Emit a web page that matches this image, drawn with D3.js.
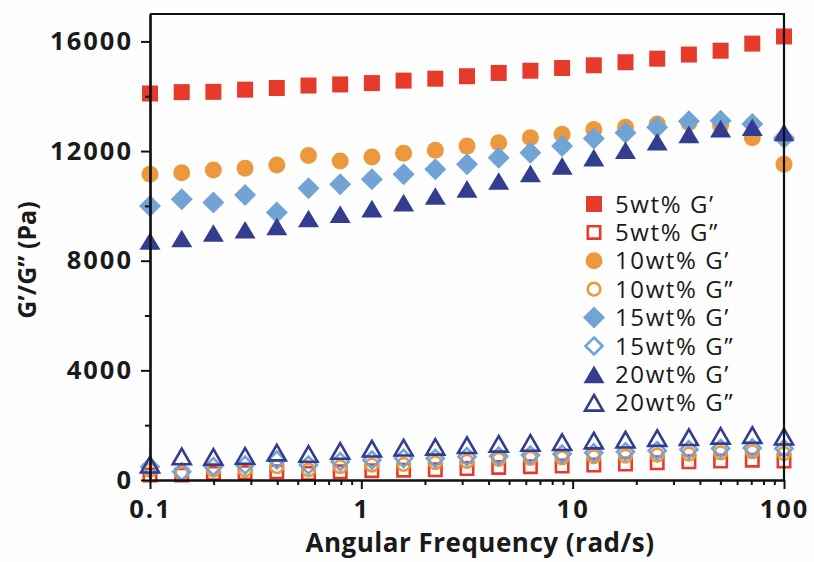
<!DOCTYPE html>
<html>
<head>
<meta charset="utf-8">
<script src="https://cdn.jsdelivr.net/npm/d3@7"></script>
<style>
  html, body { margin: 0; padding: 0; background: #fefefe; }
  svg { display: block; }
  text { font-family: "Open Sans", "DejaVu Sans", sans-serif; fill: #1a1a1a; }
</style>
</head>
<body>
<svg id="chart" width="814" height="562"></svg>
<script>
// ---------- data ----------
const frequency = [0.1, 0.1413, 0.1995, 0.2818, 0.3981, 0.5623, 0.7943, 1.122, 1.585, 2.239, 3.162,
                   4.467, 6.310, 8.913, 12.59, 17.78, 25.12, 35.48, 50.12, 70.79, 100];

const g5Storage  = [14100, 14150, 14160, 14240, 14300, 14390, 14430, 14480, 14570, 14640, 14730,
                    14850, 14930, 15030, 15130, 15240, 15370, 15520, 15660, 15920, 16180];
const g5Loss     = [180, 180, 240, 270, 300, 240, 300, 340, 360, 370, 420,
                    460, 485, 510, 545, 580, 630, 665, 690, 725, 690];
const g10Storage = [11150, 11210, 11310, 11370, 11490, 11840, 11640, 11780, 11920, 12030, 12180,
                    12300, 12490, 12610, 12790, 12870, 12990, 13030, 12930, 12490, 11520];
const g10Loss    = [360, 240, 360, 365, 485, 365, 485, 545, 570, 630, 680,
                    750, 790, 810, 850, 870, 910, 945, 990, 1030, 970];
const g15Storage = [10000, 10240, 10120, 10400, 9760, 10640, 10790, 10970, 11150, 11340, 11520,
                    11760, 11940, 12180, 12460, 12670, 12870, 13090, 13110, 12990, 12480];
const g15Loss    = [485, 300, 485, 545, 730, 545, 670, 730, 790, 790, 850,
                    870, 910, 945, 990, 1030, 1070, 1110, 1150, 1170, 1150];
const g20Storage = [8720, 8810, 9010, 9130, 9250, 9540, 9700, 9900, 10120, 10360, 10620,
                    10910, 11180, 11460, 11760, 12030, 12340, 12610, 12820, 12870, 12680];
const g20Loss    = [560, 860, 840, 880, 1000, 950, 1060, 1140, 1180, 1210, 1270,
                    1320, 1350, 1380, 1440, 1470, 1530, 1560, 1610, 1640, 1580];

const seriesNames = ["5wt% G’", "5wt% G”", "10wt% G’", "10wt% G”", "15wt% G’", "15wt% G”", "20wt% G’", "20wt% G”"];
const yMajorTicks = [0, 4000, 8000, 12000, 16000];
const yMinorTicks = [2000, 6000, 10000, 14000];
const xMajorTicks = [0.1, 1, 10, 100];
const xMinorTicks = [0.2, 0.3, 0.4, 0.5, 0.6, 0.7, 0.8, 0.9, 2, 3, 4, 5, 6, 7, 8, 9, 20, 30, 40, 50, 60, 70, 80, 90];
const xTitle = "Angular Frequency (rad/s)";
const yTitle = "G’/G” (Pa)";

// ---------- styles ----------
const RED = "#e63a2b", ORANGE = "#ec983d", LBLUE = "#72a3d5", NAVY = "#333d90";
const series = [
  { name: seriesNames[0], values: g5Storage,  shape: "square",   color: RED,    filled: true },
  { name: seriesNames[1], values: g5Loss,     shape: "square",   color: RED,    filled: false },
  { name: seriesNames[2], values: g10Storage, shape: "circle",   color: ORANGE, filled: true },
  { name: seriesNames[3], values: g10Loss,    shape: "circle",   color: ORANGE, filled: false },
  { name: seriesNames[4], values: g15Storage, shape: "diamond",  color: LBLUE,  filled: true },
  { name: seriesNames[5], values: g15Loss,    shape: "diamond",  color: LBLUE,  filled: false },
  { name: seriesNames[6], values: g20Storage, shape: "triangle", color: NAVY,   filled: true },
  { name: seriesNames[7], values: g20Loss,    shape: "triangle", color: NAVY,   filled: false }
];

// ---------- layout ----------
const svg = d3.select("#chart");
const mLeft = 150, mRight = 784, mTop = 14, mBottom = 480;

const x = d3.scaleLog().domain([0.1, 100]).range([mLeft, mRight]);
const y = d3.scaleLinear().domain([0, 17000]).range([mBottom, mTop]);

function markerPath(shape, filled) {
  if (shape === "square") {
    const s = filled ? 8 : 6.2;
    return `M${-s},${-s}H${s}V${s}H${-s}Z`;
  }
  if (shape === "circle") {
    const r = filled ? 8.5 : 6.3;
    return `M${r},0A${r},${r} 0 1,1 ${-r},0A${r},${r} 0 1,1 ${r},0Z`;
  }
  if (shape === "diamond") {
    const w = filled ? 11 : 8.5, h = filled ? 11 : 8.5;
    return `M0,${-h}L${w},0L0,${h}L${-w},0Z`;
  }
  const w = filled ? 10.5 : 9, h = filled ? 8.8 : 7.8;
  return `M0,${-h}L${w},${h}L${-w},${h}Z`;
}

// ---------- data marks ----------
const plot = svg.append("g");
series.forEach(s => {
  plot.append("g").selectAll("path")
    .data(s.values)
    .join("path")
    .attr("transform", (d, i) => `translate(${x(frequency[i])},${y(d)})`)
    .attr("d", markerPath(s.shape, s.filled))
    .attr("fill", s.filled ? s.color : "none")
    .attr("stroke", s.filled ? "none" : s.color)
    .attr("stroke-width", s.filled ? 0 : 2.6)
    .attr("stroke-linejoin", "miter");
});

// ---------- frame ----------
svg.append("path")
  .attr("d", `M${mLeft},${mTop}H${mRight}V${mBottom}`)
  .attr("fill", "none").attr("stroke", "#111").attr("stroke-width", 2.2);

// ---------- axes ----------
const yAxis = svg.append("g").attr("transform", `translate(${mLeft},0)`)
  .call(d3.axisLeft(y).tickValues(yMajorTicks).tickSize(9).tickSizeOuter(0).tickPadding(8).tickFormat(d3.format("d")));
const yMinor = svg.append("g").attr("transform", `translate(${mLeft},0)`)
  .call(d3.axisLeft(y).tickValues(yMinorTicks).tickSize(5).tickSizeOuter(0).tickFormat(""));
const xAxis = svg.append("g").attr("transform", `translate(0,${mBottom})`)
  .call(d3.axisBottom(x).tickValues(xMajorTicks).tickSize(9).tickSizeOuter(0).tickPadding(3).tickFormat(d => d3.format("~g")(d)));
const xMinor = svg.append("g").attr("transform", `translate(0,${mBottom})`)
  .call(d3.axisBottom(x).tickValues(xMinorTicks).tickSize(5).tickSizeOuter(0).tickFormat(""));

[yAxis, yMinor, xAxis, xMinor].forEach(g => {
  g.select(".domain").attr("stroke", "#111").attr("stroke-width", 2.2);
  g.selectAll(".tick line").attr("stroke", "#111").attr("stroke-width", 2);
  g.selectAll("text")
    .style("font-family", "'Open Sans', sans-serif")
    .style("font-weight", 700)
    .style("font-size", "25.5px")
    .style("letter-spacing", "2px")
    .attr("fill", "#1a1a1a");
});
xAxis.selectAll("text").attr("dy", "1.0em");

// ---------- titles ----------
svg.append("text")
  .attr("x", 480).attr("y", 552)
  .attr("text-anchor", "middle")
  .style("font-weight", 700).style("font-size", "26px")
  .style("letter-spacing", "0.5px")
  .text(xTitle);

svg.append("text")
  .attr("transform", "translate(36,260) rotate(-90)")
  .attr("text-anchor", "middle")
  .style("font-weight", 700).style("font-size", "25px")
  .text(yTitle);

// ---------- legend ----------
const legend = svg.append("g");
series.forEach((s, k) => {
  const ly = 204 + k * 28.4;
  legend.append("path")
    .attr("transform", `translate(594,${ly})`)
    .attr("d", markerPath(s.shape, s.filled))
    .attr("fill", s.filled ? s.color : "none")
    .attr("stroke", s.filled ? "none" : s.color)
    .attr("stroke-width", s.filled ? 0 : 2.6);
  legend.append("text")
    .attr("x", 615).attr("y", ly)
    .attr("dy", "0.36em")
    .style("font-size", "24px")
    .style("letter-spacing", "1.6px")
    .text(s.name);
});
</script>
</body>
</html>
